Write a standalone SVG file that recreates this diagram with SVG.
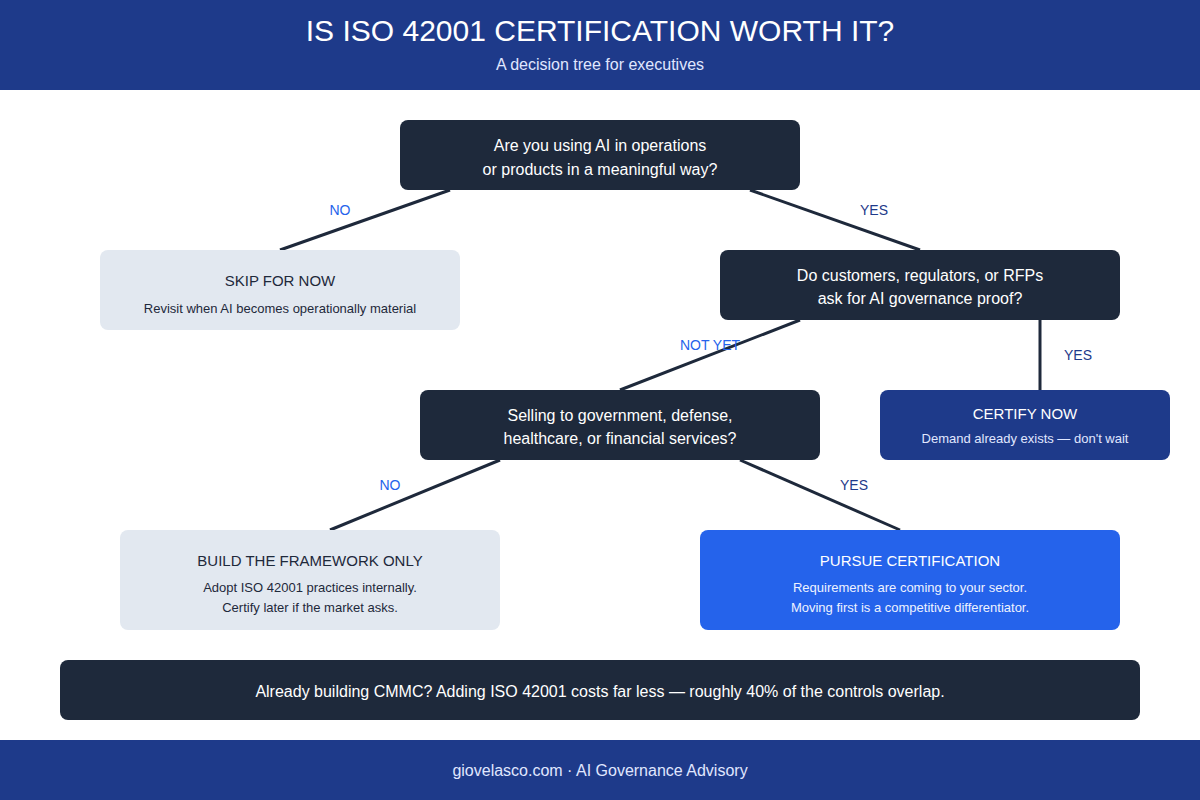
<svg xmlns="http://www.w3.org/2000/svg" width="1200" height="800" viewBox="0 0 1200 800">
<style>
text{font-family:"Liberation Sans",Arial,sans-serif;text-anchor:middle;dominant-baseline:central}
.q{fill:#1e293b}
.lt{fill:#e2e8f0}
.qt{fill:#ffffff;font-size:16px}
.tt{font-size:15px}
.st{font-size:13px}
.no{fill:#2563eb;font-size:14px}
.yes{fill:#1e3a8a;font-size:14px}
.edge{stroke:#1e293b;stroke-width:3;fill:none}
</style>
<rect width="1200" height="800" fill="#ffffff"/>
<g id="header">
<rect x="0" y="0" width="1200" height="90" fill="#1e3a8a"/>
<text x="600" y="30" fill="#ffffff" font-size="30">IS ISO 42001 CERTIFICATION WORTH IT?</text>
<text x="600" y="64" fill="#e0e7ff" font-size="16">A decision tree for executives</text>
</g>
<g id="connectors">
<line class="edge" x1="450" y1="190" x2="280" y2="250"/>
<line class="edge" x1="750" y1="190" x2="920" y2="250"/>
<line class="edge" x1="800" y1="320" x2="620" y2="390"/>
<line class="edge" x1="1040" y1="320" x2="1040" y2="390"/>
<line class="edge" x1="500" y1="460" x2="330" y2="530"/>
<line class="edge" x1="740" y1="460" x2="900" y2="530"/>
<text class="no" x="340" y="210">NO</text>
<text class="yes" x="874" y="210">YES</text>
<text class="no" x="710" y="345">NOT YET</text>
<text class="yes" x="1078" y="355">YES</text>
<text class="no" x="390" y="485">NO</text>
<text class="yes" x="854" y="485">YES</text>
</g>
<g id="q1">
<rect class="q" x="400" y="120" width="400" height="70" rx="8"/>
<text class="qt" x="600" y="145">Are you using AI in operations</text>
<text class="qt" x="600" y="169">or products in a meaningful way?</text>
</g>
<g id="skip">
<rect class="lt" x="100" y="250" width="360" height="80" rx="8"/>
<text class="tt" x="280" y="280" fill="#1e293b">SKIP FOR NOW</text>
<text class="st" x="280" y="308" fill="#1e293b">Revisit when AI becomes operationally material</text>
</g>
<g id="q2">
<rect class="q" x="720" y="250" width="400" height="70" rx="8"/>
<text class="qt" x="920" y="275">Do customers, regulators, or RFPs</text>
<text class="qt" x="920" y="298">ask for AI governance proof?</text>
</g>
<g id="q3">
<rect class="q" x="420" y="390" width="400" height="70" rx="8"/>
<text class="qt" x="620" y="415">Selling to government, defense,</text>
<text class="qt" x="620" y="438">healthcare, or financial services?</text>
</g>
<g id="certify">
<rect x="880" y="390" width="290" height="70" rx="8" fill="#1e3a8a"/>
<text class="tt" x="1025" y="413" fill="#ffffff">CERTIFY NOW</text>
<text class="st" x="1025" y="438" fill="#e0e7ff">Demand already exists — don't wait</text>
</g>
<g id="build">
<rect class="lt" x="120" y="530" width="380" height="100" rx="8"/>
<text class="tt" x="310" y="560" fill="#1e293b">BUILD THE FRAMEWORK ONLY</text>
<text class="st" x="310" y="587" fill="#1e293b">Adopt ISO 42001 practices internally.</text>
<text class="st" x="310" y="607" fill="#1e293b">Certify later if the market asks.</text>
</g>
<g id="pursue">
<rect x="700" y="530" width="420" height="100" rx="8" fill="#2563eb"/>
<text class="tt" x="910" y="560" fill="#ffffff">PURSUE CERTIFICATION</text>
<text class="st" x="910" y="587" fill="#eef2ff">Requirements are coming to your sector.</text>
<text class="st" x="910" y="607" fill="#eef2ff">Moving first is a competitive differentiator.</text>
</g>
<g id="note">
<rect class="q" x="60" y="660" width="1080" height="60" rx="8"/>
<text x="600" y="691" fill="#ffffff" font-size="16">Already building CMMC? Adding ISO 42001 costs far less — roughly 40% of the controls overlap.</text>
</g>
<g id="footer">
<rect x="0" y="740" width="1200" height="60" fill="#1e3a8a"/>
<text x="600" y="770" fill="#e0e7ff" font-size="16">giovelasco.com · AI Governance Advisory</text>
</g>
</svg>
